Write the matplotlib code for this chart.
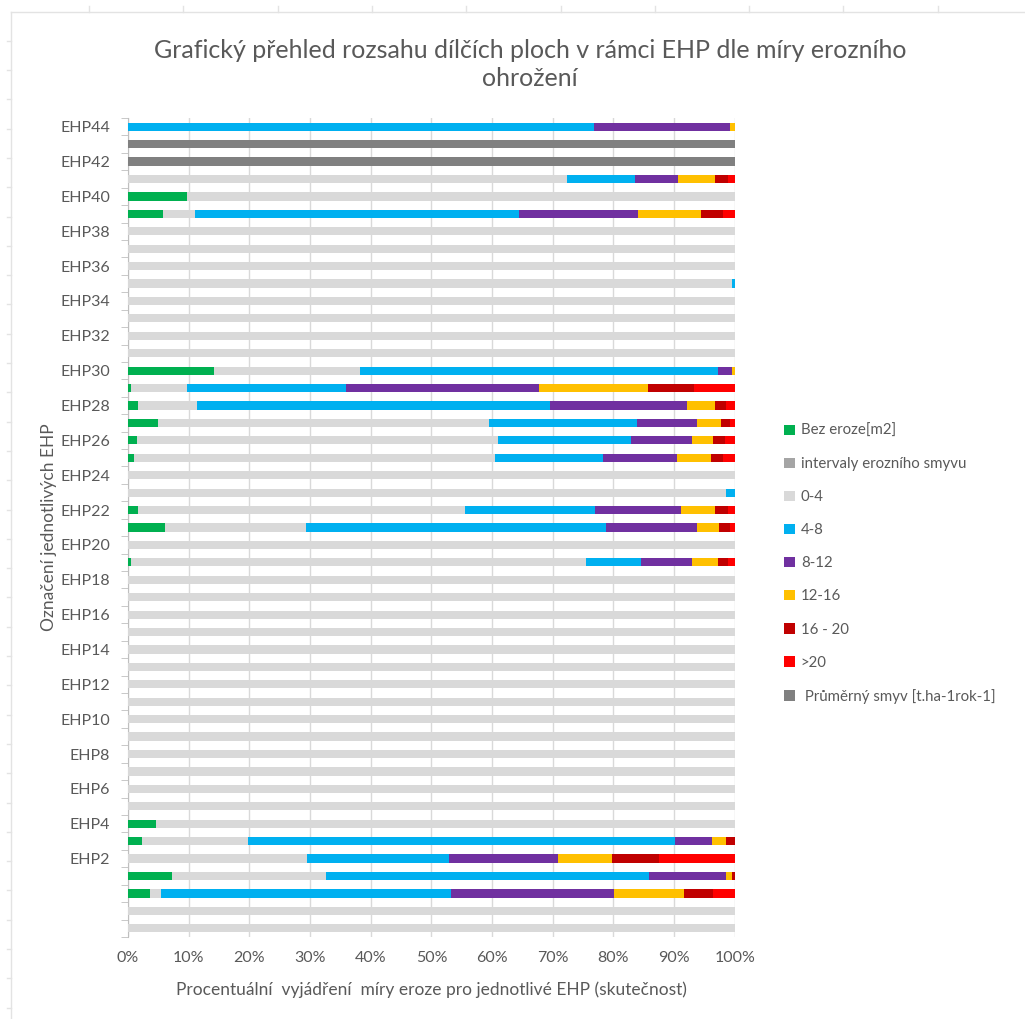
import matplotlib
matplotlib.use("Agg")
import matplotlib.pyplot as plt
from matplotlib.patches import Patch
from matplotlib.lines import Line2D
import numpy as np

plt.rcParams['font.family'] = ['Lato', 'DejaVu Sans']

## Data (bottom row first, values in %)

cats = ['', '', '', ''] + ['EHP%d' % i for i in range(2, 45)]

green = [0, 0, 3.7, 7.3, 0, 2.3, 4.6, 0, 0, 0,
         0, 0, 0, 0, 0, 0, 0, 0, 0, 0,
         0, 0.5, 0, 6.1, 1.7, 0, 0, 1.0, 1.4, 4.9,
         1.7, 0.5, 14.1, 0, 0, 0, 0, 0, 0, 0,
         0, 5.7, 9.8, 0, 0, 0, 0]

intervaly = [0, 0, 0, 0, 0, 0, 0, 0, 0, 0,
             0, 0, 0, 0, 0, 0, 0, 0, 0, 0,
             0, 0, 0, 0, 0, 0, 0, 0, 0, 0,
             0, 0, 0, 0, 0, 0, 0, 0, 0, 0,
             0, 0, 0, 0, 0, 0, 0]

s0_4 = [100, 100, 1.7, 25.3, 29.5, 17.5, 95.4, 100, 100, 100,
        100, 100, 100, 100, 100, 100, 100, 100, 100, 100,
        100, 75.0, 100, 23.2, 53.9, 98.5, 100, 59.5, 59.5, 54.6,
        9.6, 9.3, 24.2, 100, 100, 100, 100, 99.5, 100, 100,
        100, 5.3, 90.2, 72.4, 0, 0, 0]

s4_8 = [0, 0, 47.8, 53.2, 23.4, 70.4, 0, 0, 0, 0,
        0, 0, 0, 0, 0, 0, 0, 0, 0, 0,
        0, 9.1, 0, 49.4, 21.4, 1.5, 0, 17.8, 22.0, 24.4,
        58.2, 26.1, 59.0, 0, 0, 0, 0, 0.5, 0, 0,
        0, 53.4, 0, 11.2, 0, 0, 76.8]

s8_12 = [0, 0, 26.9, 12.8, 18.0, 6.1, 0, 0, 0, 0,
         0, 0, 0, 0, 0, 0, 0, 0, 0, 0,
         0, 8.3, 0, 15.1, 14.1, 0, 0, 12.1, 10.0, 9.9,
         22.6, 31.9, 2.3, 0, 0, 0, 0, 0, 0, 0,
         0, 19.7, 0, 7.0, 0, 0, 22.4]

s12_16 = [0, 0, 11.5, 1.0, 8.8, 2.2, 0, 0, 0, 0,
          0, 0, 0, 0, 0, 0, 0, 0, 0, 0,
          0, 4.3, 0, 3.6, 5.6, 0, 0, 5.6, 3.5, 3.9,
          4.6, 17.9, 0.4, 0, 0, 0, 0, 0, 0, 0,
          0, 10.4, 0, 6.1, 0, 0, 0.8]

s16_20 = [0, 0, 4.8, 0.4, 7.8, 1.5, 0, 0, 0, 0,
          0, 0, 0, 0, 0, 0, 0, 0, 0, 0,
          0, 1.7, 0, 1.8, 2.1, 0, 0, 2.1, 2.0, 1.5,
          1.9, 7.6, 0, 0, 0, 0, 0, 0, 0, 0,
          0, 3.5, 0, 2.2, 0, 0, 0]

s20 = [0, 0, 3.6, 0, 12.5, 0, 0, 0, 0, 0,
       0, 0, 0, 0, 0, 0, 0, 0, 0, 0,
       0, 1.1, 0, 0.8, 1.2, 0, 0, 1.9, 1.6, 0.8,
       1.4, 6.7, 0, 0, 0, 0, 0, 0, 0, 0,
       0, 2.0, 0, 1.1, 0, 0, 0]

prumer = [0, 0, 0, 0, 0, 0, 0, 0, 0, 0,
          0, 0, 0, 0, 0, 0, 0, 0, 0, 0,
          0, 0, 0, 0, 0, 0, 0, 0, 0, 0,
          0, 0, 0, 0, 0, 0, 0, 0, 0, 0,
          0, 0, 0, 0, 100, 100, 0]

names = ['Bez eroze[m2]', 'intervaly erozního smyvu', '0-4', '4-8', '8-12',
         '12-16', '16 - 20', '>20', ' Průměrný smyv [t.ha-1rok-1]']
colors = ['#00B050', '#A5A5A5', '#D9D9D9', '#00B0F0', '#7030A0',
          '#FFC000', '#C00000', '#FF0000', '#808080']

## Plot

series = np.array([green, intervaly, s0_4, s4_8, s8_12, s12_16, s16_20, s20, prumer], dtype=float)
series = series / series.sum(axis=0) * 100  # 100% stacked

txt = '#595959'
W, H = 1025, 1019
fig = plt.figure(figsize=(W / 100, H / 100), dpi=100)
ax = fig.add_axes([0.1249, 0.0805, 0.592, 0.8037])

y = np.arange(len(cats))
left = np.zeros(len(cats))
for vals, name, col in zip(series, names, colors):
    ax.barh(y, vals, left=left, height=0.47, color=col, label=name, zorder=3)
    left += vals

ax.set_xlim(0, 100)
ax.set_ylim(-0.5, len(cats) - 0.5)
ax.set_xticks(np.arange(0, 101, 10))
ax.set_xticklabels(['%d%%' % v for v in range(0, 101, 10)])
ax.set_yticks(y[::2])
ax.set_yticklabels(cats[::2])
ax.set_yticks(np.arange(-0.5, len(cats), 1), minor=True)
ax.tick_params(axis='y', which='major', length=0, pad=13, labelsize=11.5, labelcolor=txt)
ax.tick_params(axis='y', which='minor', length=5, color='#BFBFBF')
ax.tick_params(axis='x', length=0, pad=10, labelsize=11.5, labelcolor=txt)
ax.grid(axis='x', color='#D9D9D9', linewidth=1, zorder=0)

for s in ['top', 'right', 'bottom']:
    ax.spines[s].set_visible(False)
ax.spines['left'].set_color('#BFBFBF')

ax.set_xlabel('Procentuální  vyjádření  míry eroze pro jednotlivé EHP (skutečnost)',
              fontsize=12.5, color=txt, labelpad=12)
ax.set_ylabel('Označení jednotlivých EHP', fontsize=12.5, color=txt, labelpad=2)

fig.text(0.517, 0.937, 'Grafický přehled rozsahu dílčích ploch v rámci EHP dle míry erozního\nohrožení',
         ha='center', va='center', fontsize=18, color=txt, linespacing=1.25)

handles = [Patch(facecolor=c, edgecolor='none') for c in colors]
fig.legend(handles, names, loc='upper left', bbox_to_anchor=(0.752, 0.597),
           frameon=False, fontsize=10.8, labelcolor=txt, handlelength=0.7,
           handleheight=0.7, handletextpad=0.4, labelspacing=1.27)

# faint sheet ruler lines around the chart
rc = '#E3E3E3'
fig.add_artist(Line2D([11 / W, 1], [1 - 12 / H, 1 - 12 / H], color=rc, lw=1))
fig.add_artist(Line2D([11 / W, 11 / W], [0, 1 - 12 / H], color=rc, lw=1))
for px in np.arange(89, W, 94.3):
    fig.add_artist(Line2D([px / W, px / W], [1 - 12 / H, 1 - 6 / H], color=rc, lw=1))
for py in np.arange(40.7, H, 29.3):
    fig.add_artist(Line2D([7 / W, 11 / W], [1 - py / H, 1 - py / H], color=rc, lw=1))

plt.savefig('out.png', dpi=100)
